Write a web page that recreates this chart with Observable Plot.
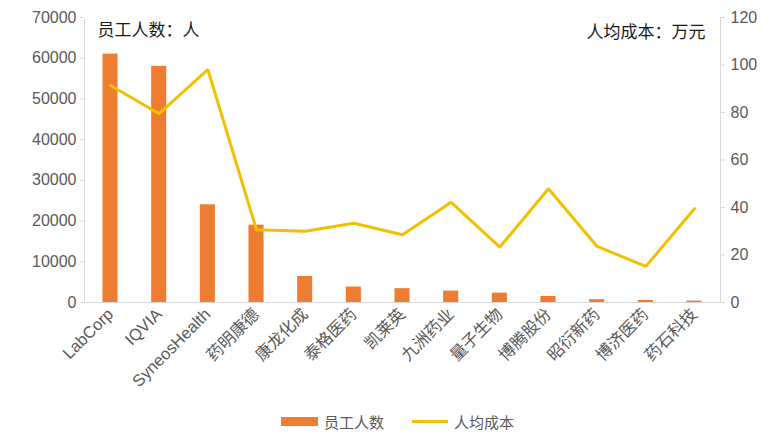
<!DOCTYPE html>
<html>
<head>
<meta charset="utf-8">
<script src="https://cdn.jsdelivr.net/npm/d3@7"></script>
<script src="https://cdn.jsdelivr.net/npm/@observablehq/plot@0.6"></script>
<style>
  body { margin: 0; background: #fff; font-family: "Liberation Sans", "Noto Sans CJK SC", sans-serif; }
  #legend { display: flex; justify-content: center; align-items: center; height: 20px; margin-top: 11px; padding-left: 12px; font-size: 15px; color: #595959; font-family: "Noto Sans CJK SC", sans-serif; }
  .sw { display: inline-block; margin-right: 6px; }
  .item { display: flex; align-items: center; margin: 0 14px; }
</style>
</head>
<body>
<div id="chart"></div>
<div id="legend">
  <div class="item"><span class="sw" style="width:37px;height:9px;background:#ED7D31"></span>员工人数</div>
  <div class="item"><span class="sw" style="width:36px;height:3px;background:#F2C000"></span>人均成本</div>
</div>
<script>
const categories = ["LabCorp", "IQVIA", "SyneosHealth", "药明康德", "康龙化成", "泰格医药", "凯莱英", "九洲药业", "量子生物", "博腾股份", "昭衍新药", "博济医药", "药石科技"];
const employees = [61000, 58000, 24000, 19000, 6400, 3800, 3400, 2800, 2300, 1500, 700, 500, 350];
const costPerHead = [91.4, 79.5, 98.1, 30.6, 30.0, 33.4, 28.5, 42.2, 23.3, 47.9, 23.6, 15.2, 39.5];
const leftTicks = [0, 10000, 20000, 30000, 40000, 50000, 60000, 70000];
const rightTicks = [0, 20, 40, 60, 80, 100, 120];
const leftTitle = "员工人数：人";
const rightTitle = "人均成本：万元";

const leftMax = 70000, rightMax = 120;
const k = leftMax / rightMax;
const data = categories.map((c, i) => ({name: c, emp: employees[i], cost: costPerHead[i]}));

const font = "'Liberation Sans', 'Noto Sans CJK SC', sans-serif";
const cjk = "'Noto Sans CJK SC', sans-serif";
const chart = Plot.plot({
  width: 783,
  height: 400,
  marginLeft: 84,
  marginRight: 63,
  marginTop: 17,
  marginBottom: 98,
  style: {fontFamily: font, fontSize: "16px", color: "#595959", background: "#fff"},
  x: {domain: categories, paddingInner: 0.69, paddingOuter: 0.38, round: false, label: null},
  y: {domain: [0, leftMax], label: null},
  marks: [
    Plot.frame({stroke: "#D9D9D9"}),
    Plot.ruleY([leftMax], {stroke: "#fff", strokeWidth: 3}),
    Plot.barY(data, {x: "name", y: "emp", fill: "#ED7D31"}),
    Plot.line(data, {x: "name", y: d => d.cost * k, stroke: "#F2C000", strokeWidth: 3, strokeLinejoin: "miter"}),
    Plot.axisY({ticks: leftTicks, tickSize: 4, stroke: "#D9D9D9", tickPadding: 4, label: null, fill: "#595959", fontSize: 16, tickFormat: d => String(d)}),
    Plot.axisY({anchor: "right", ticks: rightTicks.map(v => v * k), tickSize: 4, stroke: "#D9D9D9", tickPadding: 6, label: null, fill: "#595959", fontSize: 16, tickFormat: d => String(Math.round(d / k))}),
    Plot.axisX({tickSize: 0, tickRotate: -45, tickPadding: 9, label: null, fill: "#595959", fontSize: 16.5, fontFamily: font}),
    Plot.text([leftTitle], {frameAnchor: "top-left", dx: 13, dy: 13, lineAnchor: "middle", textAnchor: "start", fontSize: 17, fill: "#1a1a1a", fontFamily: cjk}),
    Plot.text([rightTitle], {frameAnchor: "top-right", dx: -15, dy: 15, lineAnchor: "middle", textAnchor: "end", fontSize: 17, fill: "#1a1a1a", fontFamily: cjk})
  ]
});
document.getElementById("chart").appendChild(chart);
</script>
</body>
</html>
